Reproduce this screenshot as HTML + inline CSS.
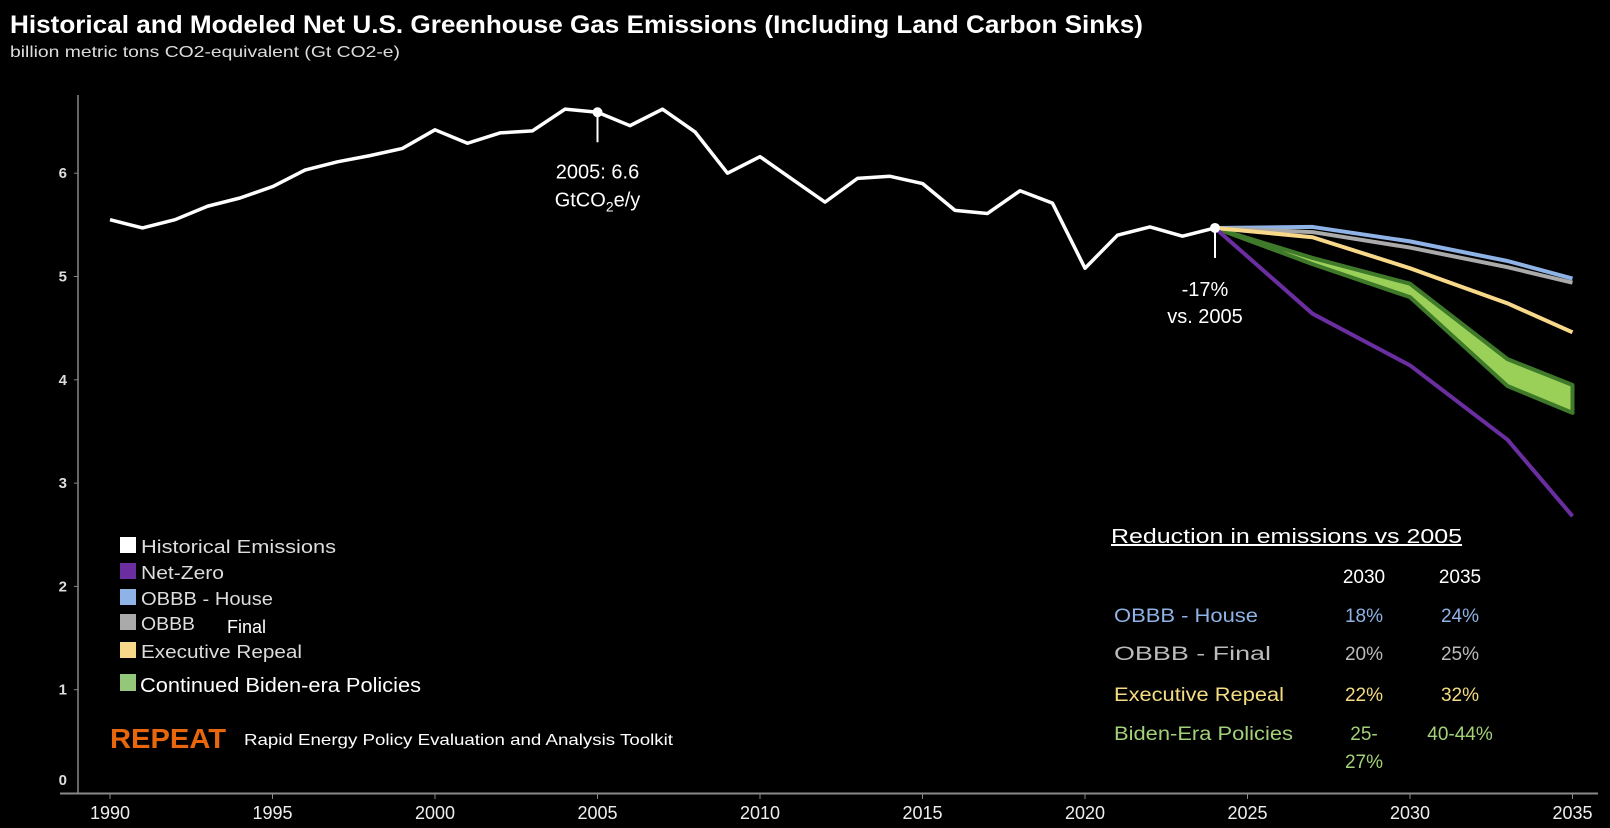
<!DOCTYPE html>
<html><head><meta charset="utf-8">
<style>
html,body{margin:0;padding:0;background:#000;}
body{width:1610px;height:828px;overflow:hidden;font-family:"Liberation Sans",sans-serif;}
svg{display:block}
</style></head>
<body>
<svg id="chart" width="1610" height="828" xmlns="http://www.w3.org/2000/svg">
<text x="10" y="33" fill="#fff" font-size="25" font-weight="bold" textLength="1133" lengthAdjust="spacingAndGlyphs">Historical and Modeled Net U.S. Greenhouse Gas Emissions (Including Land Carbon Sinks)</text>
<text x="10" y="57" fill="#ddd" font-size="16" textLength="390" lengthAdjust="spacingAndGlyphs">billion metric tons CO2-equivalent (Gt CO2-e)</text>
<g id="axes"></g>
<g id="series"></g>
<g id="annot"></g>
<g font-size="18" fill="#ddd">
 <rect x="120" y="537" width="16" height="16" fill="#fff"/>
 <text x="141" y="553" textLength="195" lengthAdjust="spacingAndGlyphs">Historical Emissions</text>
 <rect x="120" y="563" width="16" height="16" fill="#6a2ea0"/>
 <text x="141" y="579" textLength="83" lengthAdjust="spacingAndGlyphs">Net-Zero</text>
 <rect x="120" y="589" width="16" height="16" fill="#8fb3e6"/>
 <text x="141" y="605" textLength="132" lengthAdjust="spacingAndGlyphs">OBBB - House</text>
 <rect x="120" y="614" width="16" height="16" fill="#aaa"/>
 <text x="141" y="630" textLength="54" lengthAdjust="spacingAndGlyphs">OBBB</text>
 <text x="227" y="633" fill="#fff" font-size="18">Final</text>
 <rect x="120" y="642" width="16" height="16" fill="#f8d98a"/>
 <text x="141" y="658" textLength="161" lengthAdjust="spacingAndGlyphs">Executive Repeal</text>
 <rect x="120" y="674" width="16" height="17" fill="#93c77a"/>
 <text x="140" y="692" fill="#fff" font-size="20" textLength="281" lengthAdjust="spacingAndGlyphs">Continued Biden-era Policies</text>
</g>
<text x="110" y="748" fill="#e8670c" font-size="28" font-weight="bold" textLength="116" lengthAdjust="spacingAndGlyphs">REPEAT</text>
<text x="244" y="745" fill="#fff" font-size="16" textLength="429" lengthAdjust="spacingAndGlyphs">Rapid Energy Policy Evaluation and Analysis Toolkit</text>
<g font-size="19">
 <text x="1111" y="543" fill="#fff" font-size="20" text-decoration="underline" textLength="351" lengthAdjust="spacingAndGlyphs">Reduction in emissions vs 2005</text>
 <text x="1364" y="583" fill="#fff" text-anchor="middle">2030</text>
 <text x="1460" y="583" fill="#fff" text-anchor="middle">2035</text>
 <g fill="#8fb3e6"><text x="1114" y="622" textLength="144" lengthAdjust="spacingAndGlyphs">OBBB - House</text><text x="1364" y="622" text-anchor="middle">18%</text><text x="1460" y="622" text-anchor="middle">24%</text></g>
 <g fill="#bbb"><text x="1114" y="660" textLength="157" lengthAdjust="spacingAndGlyphs">OBBB - Final</text><text x="1364" y="660" text-anchor="middle">20%</text><text x="1460" y="660" text-anchor="middle">25%</text></g>
 <g fill="#f5dc82"><text x="1114" y="701" textLength="170" lengthAdjust="spacingAndGlyphs">Executive Repeal</text><text x="1364" y="701" text-anchor="middle">22%</text><text x="1460" y="701" text-anchor="middle">32%</text></g>
 <g fill="#a3d17a"><text x="1114" y="740" textLength="179" lengthAdjust="spacingAndGlyphs">Biden-Era Policies</text><text x="1364" y="740" text-anchor="middle">25-</text><text x="1364" y="768" text-anchor="middle">27%</text><text x="1460" y="740" text-anchor="middle">40-44%</text></g>
</g>
</svg>
<script>
const histYears=[1990,1991,1992,1993,1994,1995,1996,1997,1998,1999,2000,2001,2002,2003,2004,2005,2006,2007,2008,2009,2010,2011,2012,2013,2014,2015,2016,2017,2018,2019,2020,2021,2022,2023,2024];
const histValues=[5.55,5.47,5.55,5.68,5.76,5.87,6.03,6.11,6.17,6.24,6.42,6.29,6.39,6.41,6.62,6.59,6.46,6.62,6.40,6.00,6.16,5.94,5.72,5.95,5.97,5.90,5.64,5.61,5.83,5.71,5.08,5.40,5.48,5.39,5.47];
const projYears=[2024,2027,2030,2033,2035];
const houseValues=[5.47,5.48,5.34,5.15,4.98];
const finalValues=[5.47,5.43,5.28,5.09,4.94];
const repealValues=[5.47,5.38,5.08,4.74,4.46];
const netZeroValues=[5.47,4.64,4.14,3.42,2.68];
const bidenHigh=[5.47,5.18,4.93,4.20,3.95];
const bidenLow=[5.47,5.12,4.80,3.94,3.68];
const yTicks=[0,1,2,3,4,5,6];
const xTicks=[1990,1995,2000,2005,2010,2015,2020,2025,2030,2035];

const NS="http://www.w3.org/2000/svg";
const X=y=>110+(y-1990)*32.5;
const Y=v=>793-v*103.3;
function mk(tag,attrs,parent){const e=document.createElementNS(NS,tag);for(const k in attrs)e.setAttribute(k,attrs[k]);parent.appendChild(e);return e;}
const axes=document.getElementById('axes'),ser=document.getElementById('series'),ann=document.getElementById('annot');

let a=mk('line',{x1:78,y1:95,x2:78,y2:794,stroke:'#888','stroke-width':1.5},axes);


a=mk('line',{x1:60,y1:793.5,x2:1598,y2:793.5,stroke:'#888','stroke-width':2},axes);


yTicks.forEach(v=>{
 mk('line',{x1:74,y1:Y(v),x2:78,y2:Y(v),stroke:'#888'},axes);
 const t=mk('text',{x:67,y:(v===0?Y(v)-8:Y(v)+5),fill:'#ddd','font-size':15,'font-weight':'bold','text-anchor':'end'},axes);
 t.textContent=v;
 
 
});
xTicks.forEach(yr=>{
 mk('line',{x1:X(yr),y1:794,x2:X(yr),y2:799,stroke:'#888'},axes);
 const t=mk('text',{x:X(yr),y:819,fill:'#eee','font-size':18,'text-anchor':'middle'},axes);
 t.textContent=yr;
 
 
});
function pts(xs,vs){return xs.map((x,i)=>X(x)+','+Y(vs[i])).join(' ');}
let band=mk('polygon',{points:pts(projYears,bidenHigh)+' '+pts(projYears.slice().reverse(),bidenLow.slice().reverse()),fill:'#9bd058',stroke:'#3f7a2a','stroke-width':4,'stroke-linejoin':'round'},ser);


[[houseValues,'#8fb3e6','obbb-house-line'],[finalValues,'#aaa','obbb-final-line'],[repealValues,'#f8d98a','executive-repeal-line'],[netZeroValues,'#6a2ea0','net-zero-line']].forEach(([vs,c,n])=>{
 const l=mk('polyline',{points:pts(projYears,vs),fill:'none',stroke:c,'stroke-width':4,'stroke-linejoin':'round'},ser);
 
 
});
const h=mk('polyline',{points:pts(histYears,histValues),fill:'none',stroke:'#fff','stroke-width':3.5,'stroke-linejoin':'round'},ser);


function annot(yr,name){
 const v=histValues[histYears.indexOf(yr)];const x=X(yr),y=Y(v);
 mk('line',{x1:x,y1:y,x2:x,y2:y+30,stroke:'#fff','stroke-width':2},ann);
 const d=mk('circle',{cx:x,cy:y,r:5,fill:'#fff'},ann);
 
 
 return [x,y];
}
let [x5,y5]=annot(2005,'annotation-2005');
let t=mk('text',{x:x5,y:y5+66,fill:'#fff','font-size':20,'text-anchor':'middle'},ann);
t.textContent='2005: 6.6';


t=mk('text',{x:x5,y:y5+94,fill:'#fff','font-size':20,'text-anchor':'middle'},ann);
t.innerHTML='GtCO<tspan font-size="14" dy="5">2</tspan><tspan dy="-5">e/y</tspan>';


let [x24,y24]=annot(2024,'annotation-2024');
t=mk('text',{x:x24-10,y:y24+68,fill:'#fff','font-size':20,'text-anchor':'middle'},ann);
t.textContent='-17%';


t=mk('text',{x:x24-10,y:y24+95,fill:'#fff','font-size':20,'text-anchor':'middle'},ann);
t.textContent='vs. 2005';


</script>
</body></html>
